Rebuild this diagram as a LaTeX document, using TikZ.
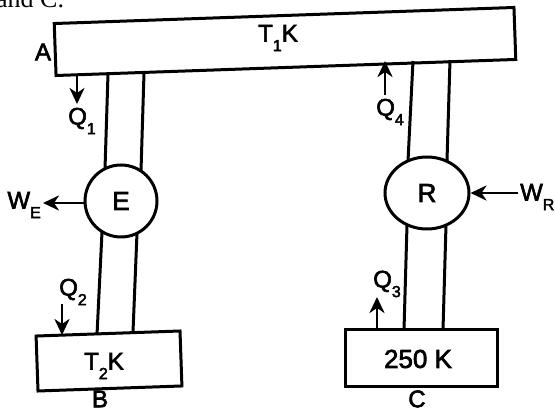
\documentclass[tikz,border=0pt]{standalone}
\usepackage{fontspec}
\setmainfont{Liberation Sans}
\newfontfamily\lblfont{Liberation Sans}[FakeBold=2.5]
\newfontfamily\serifpart{Liberation Serif}
\usetikzlibrary{arrows.meta,shapes.geometric}
\newcommand{\lowsub}[1]{\raisebox{-0.4em}{\fontsize{16}{16}\selectfont #1}}
\tikzset{
  wall/.style={draw=black, line width=3pt, line join=miter},
  tube/.style={line width=3pt},
  flow/.style={line width=2.8pt, -{Stealth[length=16pt,width=15pt,inset=5pt]}},
  lbl/.style={inner sep=0pt, font=\lblfont\fontsize{24}{26}\selectfont},
  dev/.style={draw=black, line width=3pt, inner sep=0pt, font=\lblfont\fontsize{26}{28}\selectfont}
}
\begin{document}
\begin{tikzpicture}[x=1pt,y=-1pt]
\useasboundingbox (0,0) rectangle (555,411);
\clip (0,0) rectangle (555,411);
\fill[white] (0,0) rectangle (555,411);
% cut-off caption text at the top
\node[anchor=base west, inner sep=0pt, font=\serifpart\fontsize{26}{28}\selectfont] (cap) at (-4,8) {and C.};
% reservoirs
\node[wall, minimum width=460pt, minimum height=52pt, rotate=2] (A) at (285,41.5) {};
\node[lbl] (T1) at (278,38) {T\lowsub{1}K};
\node[lbl] (Alab) at (43,52) {A};
\node[wall, minimum width=144pt, minimum height=55pt, rotate=2] (B) at (109,361) {};
\node[lbl] (T2) at (104,366) {T\lowsub{2}K};
\node[lbl] (Blab) at (100,399) {B};
\node[wall, minimum width=152pt, minimum height=57pt] (C) at (421,358.5) {};
\node[lbl, font=\lblfont\fontsize{26}{28}\selectfont] (T3) at (418,359) {250 K};
\node[lbl] (Clab) at (417,399) {C};
% devices
\node[dev, circle, minimum size=72pt] (E) at (121,201) {E};
\node[dev, ellipse, minimum width=84pt, minimum height=72pt] (R) at (427,193) {R};
% tubes
\coordinate (a1) at (108,74);  \coordinate (e1) at (105,169);
\coordinate (a2) at (144,73);  \coordinate (e2) at (141,171);
\coordinate (e3) at (102,232); \coordinate (b1) at (97,335);
\coordinate (e4) at (137,233); \coordinate (b2) at (133,332);
\coordinate (a3) at (413,61);  \coordinate (r1) at (408,161);
\coordinate (a4) at (450,60);  \coordinate (r2) at (447,161);
\coordinate (r3) at (407,225); \coordinate (c1) at (404,330);
\coordinate (r4) at (446,225); \coordinate (c2) at (443,330);
\draw[tube] (a1) -- (e1);
\draw[tube] (a2) -- (e2);
\draw[tube] (e3) -- (b1);
\draw[tube] (e4) -- (b2);
\draw[tube] (a3) -- (r1);
\draw[tube] (a4) -- (r2);
\draw[tube] (r3) -- (c1);
\draw[tube] (r4) -- (c2);
% heat and work arrows
\coordinate (q1s) at (77,75);   \coordinate (q1e) at (77,104);
\coordinate (q2s) at (62,304);  \coordinate (q2e) at (62,335);
\coordinate (q3s) at (377,330); \coordinate (q3e) at (377,297);
\coordinate (q4s) at (385,95);  \coordinate (q4e) at (385,61);
\coordinate (we) at (43,203);
\coordinate (wr) at (518,193);
\draw[flow] (q1s) -- (q1e);
\draw[flow] (q2s) -- (q2e);
\draw[flow] (q3s) -- (q3e);
\draw[flow] (q4s) -- (q4e);
\draw[flow] (E.west |- we) -- (we);
\draw[flow] (wr) -- (R.east);
\node[lbl] (Q1) at (82,121) {Q\lowsub{1}};
\node[lbl] (Q2) at (73,292) {Q\lowsub{2}};
\node[lbl] (Q3) at (387,284) {Q\lowsub{3}};
\node[lbl] (Q4) at (390,112) {Q\lowsub{4}};
\node[lbl, anchor=east] (WE) at (41,205) {W\lowsub{E}};
\node[lbl, anchor=west] (WR) at (520,197) {W\lowsub{R}};
\end{tikzpicture}
\end{document}
